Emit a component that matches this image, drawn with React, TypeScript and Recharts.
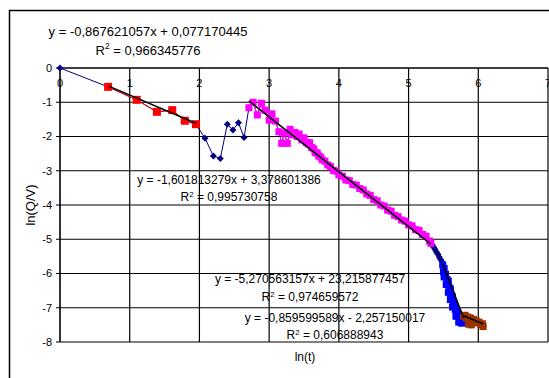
import React from "react";
import { CartesianGrid, Scatter, ScatterChart, XAxis, YAxis } from "recharts";

// ln(t) / ln(Q/V) readings
const originX = [0];
const originY = [0];

const redX = [0.69, 1.1, 1.39, 1.61, 1.79, 1.95];
const redY = [-0.55, -0.93, -1.28, -1.23, -1.54, -1.64];

const midX = [2.08, 2.2, 2.3, 2.4, 2.48, 2.56, 2.64];
const midY = [-2.05, -2.57, -2.64, -1.64, -1.81, -1.6, -2.03];

const pinkX = [
  2.71, 2.77, 2.83, 2.89, 2.94, 3.0, 3.04, 3.09, 3.14, 3.18, 3.22, 3.26, 3.3, 3.33, 3.37, 3.4,
  3.43, 3.47, 3.5, 3.53, 3.56, 3.58, 3.61, 3.64, 3.66, 3.69, 3.71, 3.74, 3.76, 3.8, 3.84, 3.88,
  3.92, 3.96, 4.0, 4.05, 4.1, 4.15, 4.2, 4.25, 4.3, 4.35, 4.4, 4.45, 4.5, 4.55, 4.6, 4.65, 4.7,
  4.75, 4.8, 4.85, 4.9, 4.95, 5.0, 5.05, 5.1, 5.15, 5.2, 5.25, 5.3, 5.32,
];
const pinkY = [
  -1.16, -1.0, -1.37, -1.03, -1.23, -1.52, -1.34, -1.55, -1.86, -2.2, -1.9, -2.2, -1.79, -1.95,
  -1.88, -2.0, -1.93, -2.1, -2.04, -2.17, -2.22, -2.18, -2.32, -2.36, -2.47, -2.48, -2.57, -2.6,
  -2.68, -2.72, -2.83, -2.88, -2.99, -3.01, -3.12, -3.16, -3.27, -3.29, -3.4, -3.42, -3.52, -3.56,
  -3.68, -3.72, -3.84, -3.88, -4.0, -4.03, -4.15, -4.18, -4.3, -4.34, -4.44, -4.47, -4.58, -4.61,
  -4.72, -4.74, -4.86, -4.91, -5.05, -5.12,
];

const tailX = [5.34, 5.36, 5.38, 5.4, 5.42, 5.44, 5.46, 5.48];
const tailY = [-5.17, -5.23, -5.3, -5.37, -5.44, -5.52, -5.59, -5.66];

const blueX = [
  5.49, 5.51, 5.5, 5.53, 5.51, 5.55, 5.57, 5.54, 5.58, 5.6, 5.57, 5.61, 5.63, 5.6, 5.64, 5.66,
  5.63, 5.67, 5.69, 5.71, 5.68, 5.73, 5.75, 5.72, 5.76, 5.78,
];
const blueY = [
  -5.75, -5.85, -5.95, -6.02, -6.1, -6.18, -6.22, -6.32, -6.4, -6.45, -6.55, -6.62, -6.68, -6.76,
  -6.84, -6.9, -6.98, -7.05, -7.1, -7.18, -7.25, -7.3, -7.36, -7.42, -7.45, -7.4,
];

const brownX = [
  5.79, 5.81, 5.83, 5.85, 5.86, 5.87, 5.89, 5.9, 5.91, 5.93, 5.95, 5.97, 5.99, 6.01, 6.03, 6.05,
  6.07, 6.06,
];
const brownY = [
  -7.25, -7.22, -7.3, -7.27, -7.48, -7.33, -7.3, -7.5, -7.36, -7.34, -7.4, -7.38, -7.44, -7.42,
  -7.48, -7.5, -7.55, -7.47,
];

// Excel trendlines
const trendSlope = [-0.867621057, -1.601813279, -5.270563157, -0.859599589];
const trendIntercept = [0.077170445, 3.378601386, 23.215877457, -2.257150017];
const trendR2 = [0.966345776, 0.995730758, 0.974659572, 0.606888943];
const trendFrom = [0.69, 2.71, 5.49, 5.79];
const trendTo = [1.95, 5.32, 5.79, 6.07];

const xTicks = [0, 1, 2, 3, 4, 5, 6, 7];
const yTicks = [0, -1, -2, -3, -4, -5, -6, -7, -8];

const NAVY = "#000080";
const FONT = "Arial, 'Liberation Sans', sans-serif";

const pts = (xs: number[], ys: number[]) => xs.map((x, i) => ({ x, y: ys[i] }));

const origin = pts(originX, originY);
const red = pts(redX, redY);
const mid = pts(midX, midY);
const pink = pts(pinkX, pinkY);
const tail = pts(tailX, tailY);
const blue = pts(blueX, blueY);
const brown = pts(brownX, brownY);
const all = [...origin, ...red, ...mid, ...pink, ...tail, ...blue, ...brown];

const trends = trendSlope.map((m, i) => [
  { x: trendFrom[i], y: m * trendFrom[i] + trendIntercept[i] },
  { x: trendTo[i], y: m * trendTo[i] + trendIntercept[i] },
]);

const fmt = (v: number) => String(v).replace(".", ",");
const eqText = (i: number) =>
  `y = ${fmt(trendSlope[i])}x ${trendIntercept[i] < 0 ? "-" : "+"} ${fmt(Math.abs(trendIntercept[i]))}`;

// where Excel dropped the trendline labels: centre x, line centres, font size
const labelPos = [
  { cx: 148, y1: 31, y2: 50, fs: 13 },
  { cx: 229, y1: 180, y2: 197, fs: 12 },
  { cx: 310, y1: 279, y2: 297, fs: 12 },
  { cx: 335, y1: 318, y2: 335, fs: 12 },
];

const square = (size: number, fill: string) => (p: any) =>
  <rect x={p.cx - size / 2} y={p.cy - size / 2} width={size} height={size} fill={fill} />;

const diamond = (p: any) => (
  <polygon
    points={`${p.cx},${p.cy - 3.5} ${p.cx + 3.5},${p.cy} ${p.cx},${p.cy + 3.5} ${p.cx - 3.5},${p.cy}`}
    fill={NAVY}
  />
);

const noMark = () => <g />;

const XTick = ({ x, y, payload }: any) => (
  <text x={x} y={y + 19} textAnchor="middle" fontSize={11} fontFamily={FONT} fill="#000">
    {payload.value}
  </text>
);

export default function App() {
  return (
    <div style={{ position: "absolute", left: 0, top: 0, width: 549, height: 378, background: "#fff" }}>
      <ScatterChart width={549} height={378} margin={{ top: 48, right: 1, bottom: 36, left: 0 }}>
        <CartesianGrid stroke="#000" strokeWidth={1.2} />
        <XAxis
          type="number"
          dataKey="x"
          orientation="top"
          height={20}
          domain={[0, 7]}
          ticks={xTicks}
          interval={0}
          tickLine={false}
          tickSize={0}
          tickMargin={0}
          axisLine={{ stroke: "#000" }}
          tick={<XTick />}
        />
        <YAxis
          type="number"
          dataKey="y"
          width={60}
          domain={[-8, 0]}
          ticks={yTicks}
          interval={0}
          tickSize={4}
          tickMargin={4}
          tickLine={{ stroke: "#000" }}
          axisLine={{ stroke: "#000" }}
          tick={{ fill: "#000", fontSize: 11, fontFamily: FONT }}
        />
        <Scatter data={all} line={{ stroke: NAVY, strokeWidth: 1 }} lineType="joint" shape={diamond} isAnimationActive={false} />
        <Scatter data={red} line={{ stroke: "#ff0000", strokeWidth: 1 }} lineType="joint" shape={square(8, "#ff0000")} isAnimationActive={false} />
        <Scatter data={pink} line={{ stroke: "#ff00ff", strokeWidth: 1 }} lineType="joint" shape={square(7, "#ff00ff")} isAnimationActive={false} />
        <Scatter data={blue} line={{ stroke: "#0000ff", strokeWidth: 1 }} lineType="joint" shape={square(7, "#0000ff")} isAnimationActive={false} />
        <Scatter data={brown} line={{ stroke: "#993300", strokeWidth: 1 }} lineType="joint" shape={square(7, "#993300")} isAnimationActive={false} />
        {trends.map((d, i) => (
          <Scatter key={i} data={d} line={{ stroke: "#000", strokeWidth: 1.5 }} lineType="joint" shape={noMark} isAnimationActive={false} />
        ))}
      </ScatterChart>

      <svg width={549} height={378} style={{ position: "absolute", left: 0, top: 0, pointerEvents: "none" }} fontFamily={FONT}>
        <path d="M9.5,378 V10.5 H549" fill="none" stroke="#000" strokeWidth={1.5} />
        {labelPos.map((p, i) => (
          <g key={i} fontSize={p.fs} fill="#000" textAnchor="middle">
            <text x={p.cx} y={p.y1 + p.fs * 0.36}>{eqText(i)}</text>
            <text x={p.cx} y={p.y2 + p.fs * 0.36}>
              R<tspan fontSize={p.fs * 0.65} dy={-p.fs * 0.4}>2</tspan>
              <tspan dy={p.fs * 0.4}>{` = ${fmt(trendR2[i])}`}</tspan>
            </text>
          </g>
        ))}
        <text x={305} y={361} fontSize={12} textAnchor="middle" fill="#000">ln(t)</text>
        <text x={0} y={0} fontSize={13} textAnchor="middle" fill="#000" transform="translate(35,205) rotate(-90)">
          ln(Q/V)
        </text>
      </svg>
    </div>
  );
}
